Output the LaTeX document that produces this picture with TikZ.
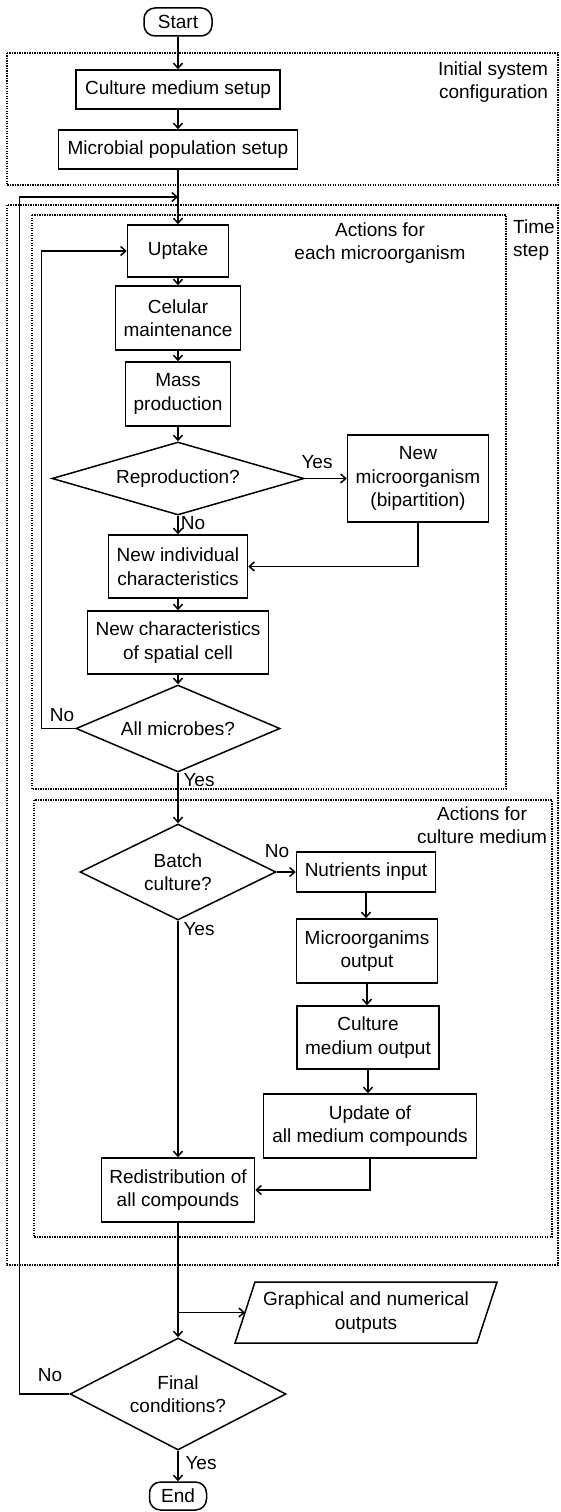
\documentclass[tikz,border=0pt]{standalone}
\usepackage{fontspec}
\setmainfont{Liberation Sans}
\usetikzlibrary{shapes.geometric,arrows.meta}
\begin{document}
\begin{tikzpicture}[x=1pt,y=-1pt,
  every node/.style={font=\fontsize{19}{23.5}\selectfont},
  box/.style={draw, line width=1.5pt, align=center, inner sep=0pt},
  dec/.style={draw, diamond, line width=1.5pt, align=center, inner sep=0pt},
  term/.style={draw, rounded corners=11pt, line width=1.5pt, inner sep=0pt},
  arr/.style={line width=1.5pt, -{Straight Barb[length=5pt,width=9pt]}},
  ln/.style={line width=1.5pt},
  grp/.style={line width=1.3pt, dash pattern=on 1.3pt off 1.2pt},
  lbl/.style={inner sep=0pt}
]
\useasboundingbox (0,0) rectangle (560,1512);
\fill[white] (0,0) rectangle (560,1512);

% groups
\draw[grp] (7,53) rectangle (558,185);
\draw[grp] (7,205) rectangle (558,1265);
\draw[grp] (32,215) rectangle (506,789);
\draw[grp] (34,800) rectangle (552,1237);

\node[lbl, align=right] (tinit) at (493,82) {Initial system\\configuration};
\node[lbl, align=left, anchor=west] (ttime) at (513,240) {Time\\step};
\node[lbl, align=center] (tmicro) at (380,243) {Actions for\\each microorganism};
\node[lbl, align=center] (tmed) at (482,825) {Actions for\\culture medium};

% nodes
\node[term, minimum width=68pt, minimum height=28pt] (start) at (178,22) {Start};
\node[box, minimum width=204pt, minimum height=39pt] (cms) at (178,89.5) {Culture medium setup};
\node[box, minimum width=239pt, minimum height=39pt] (mps) at (178,149.5) {Microbial population setup};
\node[box, minimum width=101pt, minimum height=52pt] (upt) at (178,251) {Uptake};
\node[box, minimum width=125pt, minimum height=64pt] (cel) at (178,318) {Celular\\maintenance};
\node[box, minimum width=105pt, minimum height=64pt] (mass) at (178,394) {Mass\\production};
\node[dec, aspect=3.45, minimum width=252pt, minimum height=73pt] (rep) at (178,478.5) {Reproduction?};
\node[box, minimum width=141pt, minimum height=87pt] (newm) at (418,478.5) {New\\microorganism\\(bipartition)};
\node[box, minimum width=139pt, minimum height=63pt] (nind) at (178,566.5) {New individual\\characteristics};
\node[box, minimum width=181pt, minimum height=63pt] (nchar) at (178,642.5) {New characteristics\\of spatial cell};
\node[dec, aspect=2.34, minimum width=204pt, minimum height=87pt] (allm) at (178,728.5) {All microbes?};
\node[dec, aspect=2.04, minimum width=196pt, minimum height=96pt] (batch) at (178,872) {Batch\\culture?};
\node[box, minimum width=139pt, minimum height=40pt] (nutr) at (366,872) {Nutrients input};
\node[box, minimum width=141pt, minimum height=64pt] (mout) at (367,951) {Microorganims\\output};
\node[box, minimum width=142pt, minimum height=63pt] (cmo) at (368,1037.5) {Culture\\medium output};
\node[box, minimum width=213pt, minimum height=64pt] (upd) at (370,1126) {Update of\\all medium compounds};
\node[box, minimum width=153pt, minimum height=64pt] (red) at (178,1190) {Redistribution of\\all compounds};
\draw[ln] (255,1282) -- (497,1282) -- (477,1343) -- (235,1343) -- cycle;
\node[lbl, align=center] (gout) at (366,1312.5) {Graphical and numerical\\outputs};
\coordinate (gin) at (245,1312.5);
\node[dec, aspect=1.93, minimum width=216pt, minimum height=112pt] (fin) at (178,1394) {Final\\conditions?};
\node[term, minimum width=57pt, minimum height=28pt] (end) at (178,1496) {End};

% connectors
\draw[arr] (start) -- (cms);
\draw[arr] (cms) -- (mps);
\draw[arr] (mps) -- (upt);
\draw[arr] (upt) -- (cel);
\draw[arr] (cel) -- (mass);
\draw[arr] (mass) -- (rep);
\draw[arr] (rep) -- (newm);
\draw[arr] (rep) -- (nind);
\draw[arr] (newm.south) |- (nind.east);
\draw[arr] (nind) -- (nchar);
\draw[arr] (nchar) -- (allm);
\draw[arr] (allm.west) -- ++(-34,0) |- (upt.west);
\draw[arr] (allm) -- (batch);
\draw[arr] (batch) -- (nutr);
\draw[arr] (batch) -- (red);
\draw[arr] (nutr.south) -- (nutr.south |- mout.north);
\draw[arr] (mout.south) -- (mout.south |- cmo.north);
\draw[arr] (cmo.south) -- (cmo.south |- upd.north);
\draw[arr] (upd.south) |- (red.east);
\draw[arr] (red) -- (fin);
\coordinate (gsplit) at (178,1312.5);
\draw[arr] (gsplit) -- (gin);
\coordinate (jn) at (178,197);
\draw[arr] (fin.west) -- ++(-50,0) |- (jn);
\draw[arr] (fin) -- (end);

% labels
\node[lbl] (l1) at (317,462) {Yes};
\node[lbl] (l2) at (193,523) {No};
\node[lbl] (l3) at (62,715) {No};
\node[lbl] (l4) at (199,780) {Yes};
\node[lbl] (l5) at (277,851) {No};
\node[lbl] (l6) at (199,929) {Yes};
\node[lbl] (l7) at (50,1375) {No};
\node[lbl] (l8) at (201,1463) {Yes};
\end{tikzpicture}
\end{document}
